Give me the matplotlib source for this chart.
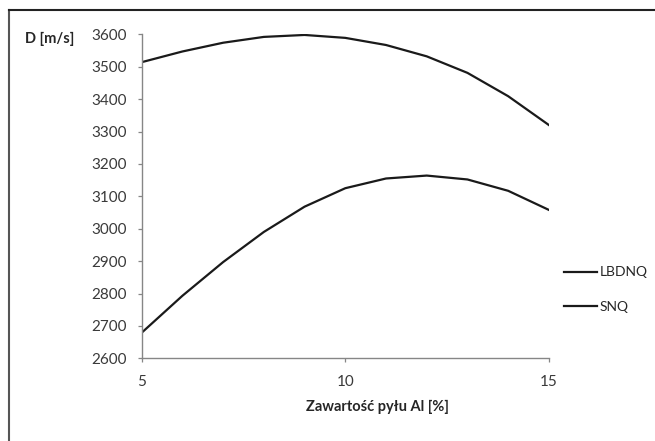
import matplotlib
matplotlib.use('Agg')
import matplotlib.pyplot as plt
from matplotlib.lines import Line2D

# data
x = [5, 6, 7, 8, 9, 10, 11, 12, 13, 14, 15]
lbdnq = [3514, 3547, 3574, 3592, 3598, 3589, 3567, 3532, 3481, 3409, 3320]
snq = [2679, 2793, 2897, 2990, 3068, 3125, 3155, 3164, 3152, 3117, 3058]
series_names = ['LBDNQ', 'SNQ']
xticks = [5, 10, 15]
yticks = list(range(2600, 3700, 100))

plt.rcParams['font.family'] = ['Lato', 'DejaVu Sans']

fig = plt.figure(figsize=(6.55, 4.41), dpi=100)
ax = fig.add_axes([0.2163, 0.1875, 0.6217, 0.7347])

ax.plot(x, lbdnq, color='#1a1a1a', lw=1.6, label=series_names[0])
ax.plot(x, snq, color='#1a1a1a', lw=1.6, label=series_names[1])

ax.set_xlim(5, 15)
ax.set_ylim(2600, 3600)
ax.set_xticks(xticks)
ax.set_yticks(yticks)
ax.tick_params(axis='both', direction='out', length=3, width=0.9,
               color='#868686', labelsize=11, labelcolor='#3a3a3a')
ax.tick_params(axis='y', pad=8)
ax.tick_params(axis='x', pad=9)
for s in ['top', 'right']:
    ax.spines[s].set_visible(False)
for s in ['left', 'bottom']:
    ax.spines[s].set_color('#868686')
    ax.spines[s].set_linewidth(1.0)

fig.text(25 / 655, 1 - 39 / 441, 'D [m/s]', fontsize=10.5, fontweight='bold',
         color='#262626', ha='left', va='center')
fig.text(377 / 655, 1 - 407 / 441, 'Zawartość pyłu Al [%]', fontsize=10.5,
         fontweight='bold', color='#262626', ha='center', va='center')

fig.legend(loc='center left', bbox_to_anchor=(564 / 655, 1 - 289.5 / 441),
           frameon=False, fontsize=10, handlelength=2.4, handletextpad=0.15,
           labelspacing=1.6, borderpad=0, borderaxespad=0, labelcolor='#262626')

# chart frame (only left and top edges visible)
fig.add_artist(Line2D([8.5 / 655, 8.5 / 655], [0, 1 - 9.5 / 441],
                      transform=fig.transFigure, color='#555555', lw=1.5))
fig.add_artist(Line2D([8.5 / 655, 1], [1 - 9.5 / 441, 1 - 9.5 / 441],
                      transform=fig.transFigure, color='#222222', lw=1.5))

fig.savefig('out.png', dpi=100)
